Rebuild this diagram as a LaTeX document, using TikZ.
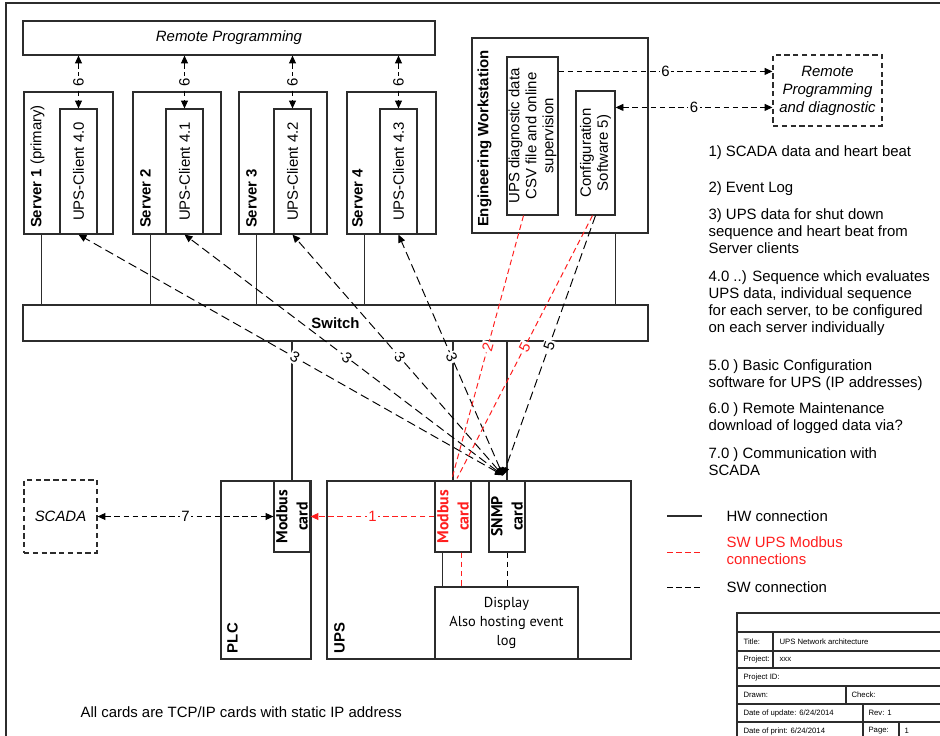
\documentclass[tikz,border=0pt]{standalone}
\usepackage{fontspec}
\setmainfont{Liberation Sans}
\newfontfamily\cardfont{PT Sans}
\usetikzlibrary{arrows.meta, positioning, calc, fit}
\definecolor{cline}{HTML}{2C2C2C}
\definecolor{cred}{HTML}{FF1E1E}
\newcommand{\basefont}{\fontsize{8.5}{9.7}\selectfont}
\tikzset{
  every picture/.style={line width=0.65pt, font=\basefont},
  blk/.style={draw=cline, inner sep=0pt},
  dblk/.style={blk, dash pattern=on 3pt off 2pt},
  hw/.style={draw=cline},
  sw/.style={draw=black, line width=0.55pt, dash pattern=on 3.2pt off 2pt},
  swl/.style={sw, dash pattern=on 5pt off 2.6pt},
  swr/.style={sw, draw=cred},
  onehead/.style={-{Triangle[length=4.5pt,width=4pt]}},
  twohead/.style={{Triangle[length=4.5pt,width=4pt]}-{Triangle[length=4.5pt,width=4pt]}},
  lbl/.style={fill=white, inner sep=0.8pt},
  vlbl/.style={rotate=90, align=center, inner sep=0pt},
  ttl/.style={rotate=90, anchor=west, inner sep=0pt},
  card/.style={rotate=90, align=center, inner sep=0pt, font=\cardfont\bfseries\fontsize{9}{11.5}\selectfont},
  note/.style={anchor=base west, align=left, inner sep=0pt},
  tb/.style={font=\fontsize{4.4}{5}\selectfont, anchor=west, inner sep=0pt},
}
\begin{document}
\begin{tikzpicture}[x=0.02cm, y=-0.02cm]
  \clip (0,0) rectangle (940,736);
  \draw[hw] (6,745) |- (945,3);

  % ---- servers
  \node[blk, fit={(23,21) (435,55)}] (rp) {};
  \node[font=\basefont\itshape] (rptxt) at (rp.center) {Remote Programming};
  \foreach \i/\xa/\xb/\ca/\cb/\v in {1/24/113/60/97/0, 2/133/221/166/203/1, 3/239/327/274/311/2, 4/347/436/380/417/3} {
    \node[blk, fit={(\xa,92) (\xb,234)}] (srv\i) {};
    \node[blk, fit={(\ca,109) (\cb,234)}] (cl\i) {};
    \node[vlbl] (cltxt\i) at (cl\i.center) {UPS-Client 4.\v};
    \draw[sw, twohead] (rp.south -| cl\i.north) -- (cl\i.north) node[midway, lbl, rotate=90] (six\i) {6};
  }
  \node[ttl] (sname1) at ($(srv1.south west)+(14,-6)$) {\textbf{Server 1} (primary)};
  \node[ttl] (sname2) at ($(srv2.south west)+(13,-6)$) {\textbf{Server 2}};
  \node[ttl] (sname3) at ($(srv3.south west)+(13,-6)$) {\textbf{Server 3}};
  \node[ttl] (sname4) at ($(srv4.south west)+(11,-6)$) {\textbf{Server 4}};

  % ---- engineering workstation
  \node[blk, fit={(472,38) (648,233)}] (ews) {};
  \node[ttl] (ewstxt) at ($(ews.south west)+(13,-6)$) {\textbf{Engineering Workstation}};
  \node[blk, fit={(507,57) (558,215)}] (diag) {};
  \node[vlbl] (diagtxt) at (diag.center) {UPS diagnostic data\\CSV file and online\\supervision};
  \node[blk, fit={(576,91) (615,215)}] (conf) {};
  \node[vlbl] (conftxt) at (conf.center) {Configuration\\Software 5)};
  \node[dblk, fit={(773,55) (882,126)}] (rpd) {};
  \node[align=center, font=\fontsize{8.5}{10.2}\selectfont\itshape] (rpdtxt) at (rpd.center) {Remote\\Programming\\and diagnostic};
  \draw[sw, onehead] ($(diag.north east)+(0,15)$) coordinate (d6) -- (rpd.west |- d6) node[midway, lbl] (six5) {6};
  \draw[sw, twohead] ($(conf.north east)+(0,17)$) coordinate (c6) -- (rpd.west |- c6) node[midway, lbl] (six6) {6};

  % ---- switch
  \node[blk, fit={(23,305) (648,341)}] (sw) {};
  \node[font=\basefont\bfseries] (swtxt) at (sw.center) {Switch};
  \foreach \i in {1,...,4}
    \draw[hw] ($(srv\i.south west)!0.2!(srv\i.south east)$) coordinate (h\i) -- (h\i |- sw.north);
  \draw[hw] (ews.south -| conf.east) -- (conf.east |- sw.north);

  % ---- plc and ups
  \node[dblk, fit={(24,480) (97,553)}] (scada) {};
  \node[font=\basefont\itshape] (scadatxt) at (scada.center) {SCADA};
  \node[blk, fit={(221,481) (311,659)}] (plc) {};
  \node[ttl] (plctxt) at ($(plc.south west)+(12,-6)$) {\textbf{PLC}};
  \node[blk, fit={(274,481) (310,552)}] (plcmb) {};
  \node[card] (plcmbtxt) at (plcmb.center) {Modbus\\card};
  \node[blk, fit={(327,481) (631,659)}] (ups) {};
  \node[ttl] (upstxt) at ($(ups.south west)+(13,-6)$) {\textbf{UPS}};
  \node[blk, fit={(435,481) (471,552)}] (upsmb) {};
  \node[card, text=cred] (upsmbtxt) at (upsmb.center) {Modbus\\card};
  \node[blk, fit={(489,481) (525,552)}] (snmp) {};
  \node[card] (snmptxt) at (snmp.center) {SNMP\\card};
  \node[blk, fit={(435,587) (578,659)}] (disp) {};
  \node[align=center, font=\cardfont\fontsize{8.2}{10.8}\selectfont] (disptxt) at (disp.center) {Display\\Also hosting event\\log};

  \draw[hw] (sw.south -| plcmb.north) -- (plcmb.north);
  \draw[hw] (sw.south -| upsmb.north) -- (upsmb.north);
  \draw[hw] (sw.south -| snmp.north) -- (snmp.north);
  \draw[hw] ($(upsmb.south west)!0.22!(upsmb.south east)$) coordinate (m1) -- (m1 |- disp.north);
  \draw[swr] ($(upsmb.south west)!0.72!(upsmb.south east)$) coordinate (m2) -- (m2 |- disp.north);
  \draw[sw] (snmp.south) -- (snmp.south |- disp.north);

  % ---- sw connections
  \coordinate (hub) at ($(snmp.north)+(-4,-5)$);
  \foreach \i in {1,...,4}
    \draw[swl, twohead] (hub) -- (cl\i.south) node[pos=0.49, lbl, sloped] (three\i) {3};
  \draw[swl, onehead] (conf.south) -- (hub) node[pos=0.5, lbl, sloped] (five1) {5};
  \draw[swr] ($(diag.south)+(-9,0)$) -- ($(upsmb.north)+(-1,-2)$) node[pos=0.5, lbl, sloped, text=cred] (two1) {2};
  \draw[swr] ($(conf.south)+(-3,0)$) -- ($(upsmb.north)+(4,-2)$) node[pos=0.5, lbl, sloped, text=cred] (five2) {5};
  \draw[swr, onehead] (upsmb.west) -- (plcmb.east) node[midway, lbl, text=cred] (one1) {1};
  \draw[sw, twohead] (scada.east) -- (plcmb.west) node[midway, lbl] (seven1) {7};

  % notes (base = last line)
  \node[note] (n1) at (708,157) {1) SCADA data and heart beat};
  \node[note] (n2) at (708,193) {2) Event Log};
  \node[note] (n3) at (708,254) {3) UPS data for shut down\\sequence and heart beat from\\Server clients};
  \node[note] (n4) at (708,333) {4.0 ..) Sequence which evaluates\\UPS data, individual sequence\\for each server, to be configured\\on each server individually};
  \node[note] (n5) at (708,388) {5.0 ) Basic Configuration\\software for UPS (IP addresses)};
  \node[note] (n6) at (708,431) {6.0 ) Remote Maintenance\\download of logged data via?};
  \node[note] (n7) at (708,476) {7.0 ) Communication with\\SCADA};
  \node[anchor=west, inner sep=0pt] (foot) at (80,712) {All cards are TCP/IP cards with static IP address};

  % legend
  \node[anchor=west, inner sep=0pt] (lg1) at (726,516) {HW connection};
  \node[anchor=west, inner sep=0pt, align=left, text=cred] (lg2) at (726,551) {SW UPS Modbus\\connections};
  \node[anchor=west, inner sep=0pt] (lg3) at (726,587) {SW connection};
  \draw[hw] ($(lg1.west)+(-59,0)$) -- ++(35,0);
  \draw[swr, dash pattern=on 3.4pt off 1.7pt] ($(lg2.west)+(-59,1)$) -- ++(35,0);
  \draw[sw, dash pattern=on 3.4pt off 1.7pt] ($(lg3.west)+(-59,0)$) -- ++(35,0);

  % title block
  \draw[hw] (737,613) rectangle (950,745);
  \foreach \y in {632,651,668,686,704,722} \draw[hw] (737,\y) -- (950,\y);
  \draw[hw] (773,632) -- (773,668);
  \draw[hw] (846,686) -- (846,704);
  \draw[hw] (863,704) -- (863,745);
  \draw[hw] (899,722) -- (899,745);
  \node[tb] (tb1) at (743,641.5) {Title:};
  \node[tb] (tb2) at (779,641.5) {UPS Network architecture};
  \node[tb] (tb3) at (743,659.5) {Project:};
  \node[tb] (tb4) at (779,659.5) {xxx};
  \node[tb] (tb5) at (743,677) {Project ID:};
  \node[tb] (tb6) at (743,695) {Drawn:};
  \node[tb] (tb7) at (851,695) {Check:};
  \node[tb] (tb8) at (743,713) {Date of update: 6/24/2014};
  \node[tb] (tb9) at (868,713) {Rev: 1};
  \node[tb] (tb10) at (743,731) {Date of print: 6/24/2014};
  \node[tb] (tb11) at (868,731) {Page:};
  \node[tb] (tb12) at (904,731) {1};
\end{tikzpicture}
\end{document}
